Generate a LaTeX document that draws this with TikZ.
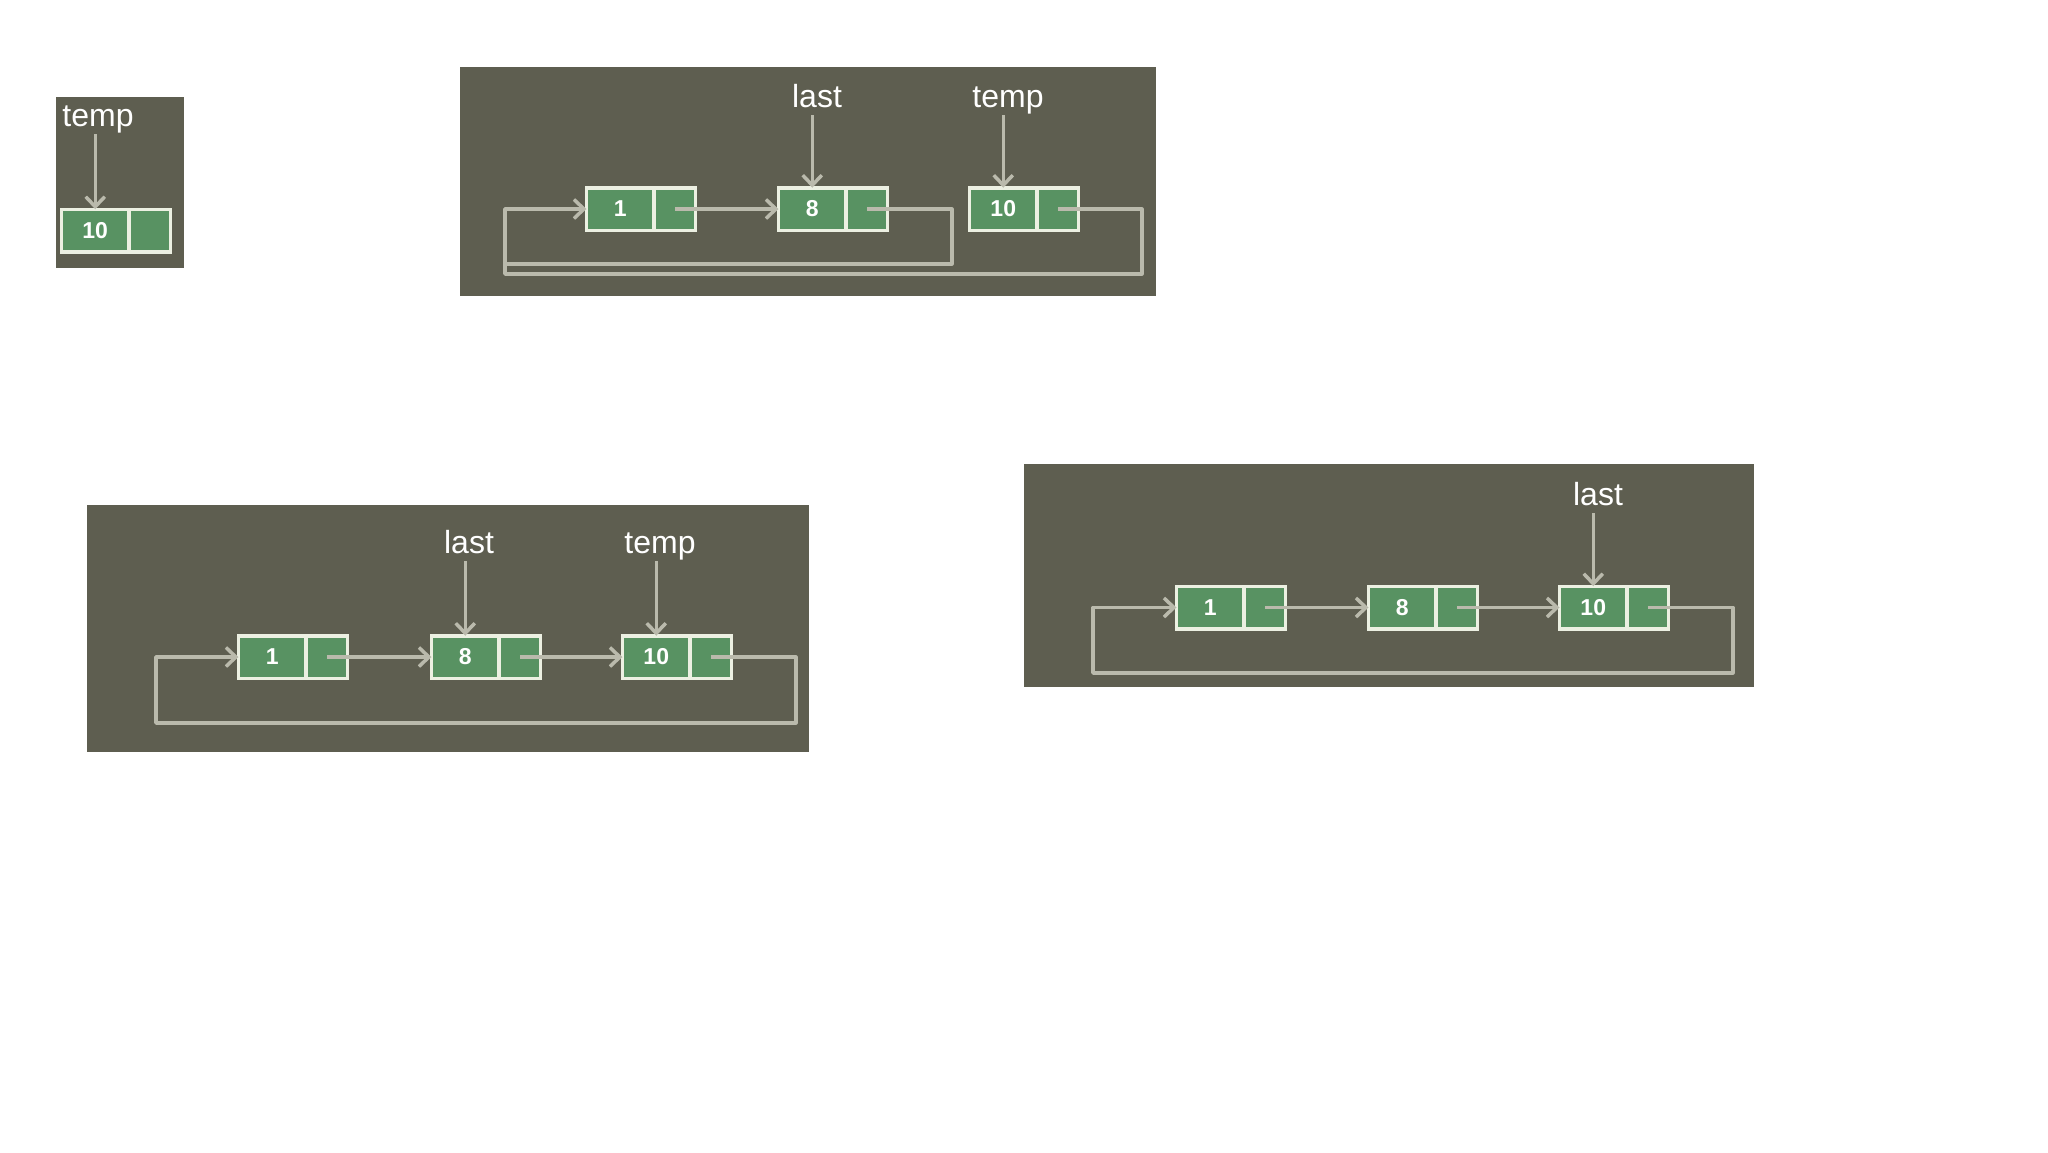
\documentclass[tikz,border=0pt]{standalone}
\usepackage{fontspec}
\setmainfont{Liberation Sans}
\usetikzlibrary{arrows.meta}
\definecolor{panelbg}{RGB}{94,94,80}
\definecolor{cellgreen}{RGB}{88,146,98}
\definecolor{cellborder}{RGB}{236,240,226}
\definecolor{linkgray}{RGB}{186,186,172}
\tikzset{
  cellbase/.style={draw=cellborder, fill=cellgreen, line width=3.5pt, minimum height=42.5pt, inner sep=0pt, outer sep=0pt},
  valcell/.style={cellbase, minimum width=67.5pt, text=white, font=\bfseries\fontsize{23}{23}\selectfont},
  ptrcell/.style={cellbase, minimum width=41.5pt},
  lbl/.style={text=white, font=\fontsize{32}{32}\selectfont, inner sep=0pt, text depth=8pt, anchor=base},
  link/.style={draw=linkgray, line width=3.5pt, line join=round, -{Straight Barb[length=10pt,width=19pt]}},
  wire/.style={draw=linkgray, line width=3.5pt, line join=round}
}
\newcommand{\listelem}[4]{%
  \node[valcell,anchor=west] (#1) at (#2,#3) {#4};
  \node[ptrcell,anchor=west] (#1n) at (#1.east) {};}
\begin{document}
\begin{tikzpicture}[x=1pt,y=-1pt]
\useasboundingbox (0,0) rectangle (2048,1152);
% panels
\fill[panelbg] (56,97) rectangle (184,268);
\fill[panelbg] (460,67) rectangle (1156,296);
\fill[panelbg] (87,505) rectangle (809,752);
\fill[panelbg] (1024,464) rectangle (1754,687);

% panel 1
\listelem{a10}{61.5}{230.5}{10}
\node[lbl] (l1t) at (98,126) {temp};
\draw[link] (l1t.south -| a10.north) -- (a10.north);

% panel 2
\listelem{b1}{586.5}{209}{1}
\listelem{b8}{778.5}{209}{8}
\listelem{b10}{969.5}{209}{10}
\node[lbl] (l2l) at (817,107) {last};
\node[lbl] (l2t) at (1008,107) {temp};
\draw[link] (l2l.south -| b8.north) -- (b8.north);
\draw[link] (l2t.south -| b10.north) -- (b10.north);
\draw[link] (b1n.center) -- (b8.west);
\draw[link] (b8n.center) -- ++(85,0) |- (505,264) |- (b1.west);
\draw[wire] (b10n.center) -- ++(84,0) |- (505,274) -- (505,264);

% panel 3
\listelem{c1}{238.5}{657}{1}
\listelem{c8}{431.5}{657}{8}
\listelem{c10}{622.5}{657}{10}
\node[lbl] (l3l) at (469,553) {last};
\node[lbl] (l3t) at (660,553) {temp};
\draw[link] (l3l.south -| c8.north) -- (c8.north);
\draw[link] (l3t.south -| c10.north) -- (c10.north);
\draw[link] (c1n.center) -- (c8.west);
\draw[link] (c8n.center) -- (c10.west);
\draw[link] (c10n.center) -- ++(85,0) |- (156,723) |- (c1.west);

% panel 4
\listelem{d1}{1176.5}{607.5}{1}
\listelem{d8}{1368.5}{607.5}{8}
\listelem{d10}{1559.5}{607.5}{10}
\node[lbl] (l4l) at (1598,505) {last};
\draw[link] (l4l.south -| d10.north) -- (d10.north);
\draw[link] (d1n.center) -- (d8.west);
\draw[link] (d8n.center) -- (d10.west);
\draw[link] (d10n.center) -- ++(85,0) |- (1093,673) |- (d1.west);
\end{tikzpicture}
\end{document}
